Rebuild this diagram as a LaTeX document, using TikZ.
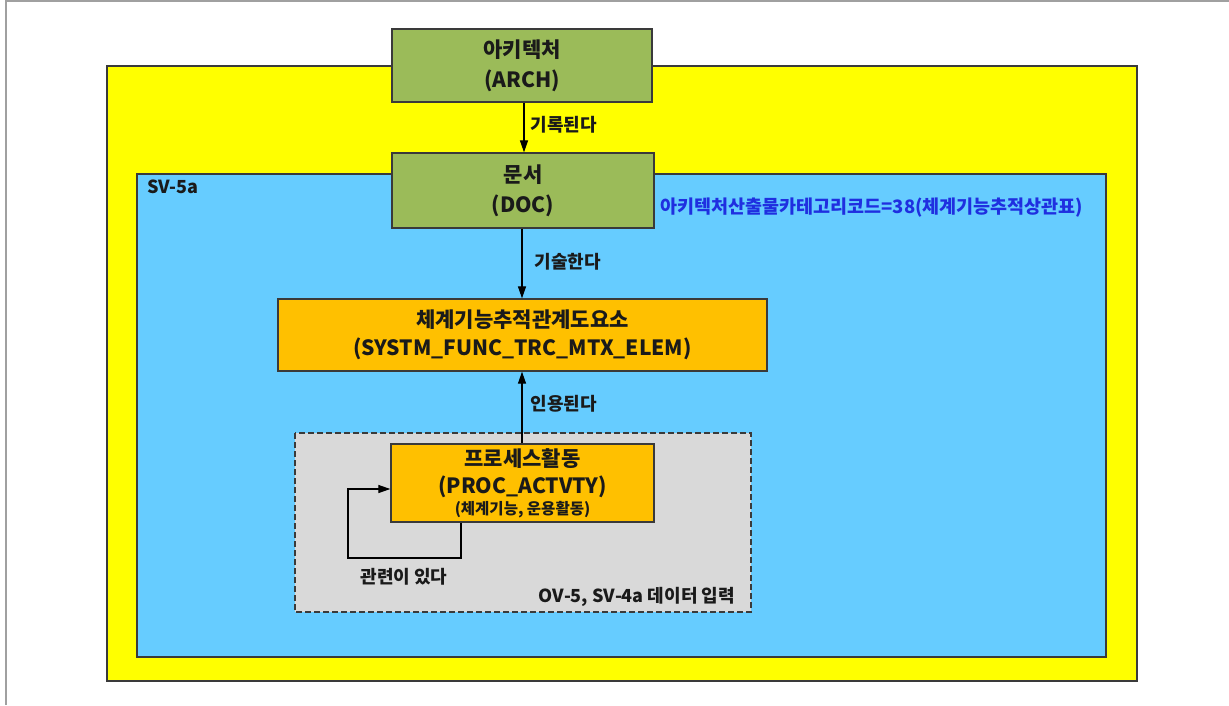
\documentclass[tikz,border=0pt]{standalone}
\usepackage{fontspec}
\setmainfont{Noto Sans CJK KR}
\usetikzlibrary{arrows.meta}
\definecolor{cyel}{HTML}{FFFF00}
\definecolor{cblue}{HTML}{66CCFF}
\definecolor{cgreen}{HTML}{9BBB59}
\definecolor{corange}{HTML}{FFC000}
\definecolor{cgray}{HTML}{D9D9D9}
\definecolor{cedge}{HTML}{3A3A3A}
\definecolor{ctext}{HTML}{1A1A1A}
\definecolor{cbluetext}{HTML}{1F2FE0}
\definecolor{cframe}{HTML}{A0A0A0}
\tikzset{
  region/.style={draw=cedge, line width=1.3pt},
  entity/.style={draw=cedge, line width=1.3pt, rectangle, align=center, inner sep=0pt, font=\bfseries\fontsize{21}{30}\selectfont, text=ctext},
  conn/.style={draw=black, line width=1.2pt, -{Triangle[length=12pt,width=8pt]}},
  lab/.style={font=\bfseries\fontsize{18}{20}\selectfont, text=ctext, inner sep=0pt},
}
\begin{document}
\begin{tikzpicture}[x=1pt,y=-1pt]
\useasboundingbox (0,0) rectangle (1229,705);
\fill[white] (0,0) rectangle (1229,705);
\draw[cframe, line width=2pt] (6,705) -- (6,1) -- (1229,1);
% regions
\draw[region, fill=cyel] (107,66) rectangle (1137,681);
\draw[region, fill=cblue] (137,174) rectangle (1106,657);
\draw[draw=cedge, line width=1.1pt, dash pattern=on 6pt off 3pt, fill=cgray] (295,433) rectangle (751,612);
\node[lab, anchor=west] (sv) at (147,187) {SV-5a};
\node[lab, anchor=east] (ov) at (735,597) {OV-5, SV-4a 데이터 입력};
% entities
\node[entity, fill=cgreen, minimum width=260pt, minimum height=73pt] (arch) at (522,65.5) {아키텍처\\(ARCH)};
\node[entity, fill=cgreen, minimum width=262pt, minimum height=75pt] (doc) at (523,190.5) {문서\\(DOC)};
\node[entity, fill=corange, minimum width=489pt, minimum height=72pt, font=\bfseries\fontsize{21}{28}\selectfont] (sys) at (522.5,335) {체계기능추적관계도요소\\(SYSTM\_FUNC\_TRC\_MTX\_ELEM)};
\node[entity, fill=corange, minimum width=263pt, minimum height=78pt, font=\bfseries\fontsize{21}{27}\selectfont] (proc) at (522.5,483) {프로세스활동\\(PROC\_ACTVTY)\\[-6pt]{\fontsize{15.5}{17}\selectfont (체계기능, 운용활동)}};
\node[font=\bfseries\fontsize{18.5}{20}\selectfont, text=cbluetext, anchor=west, inner sep=0pt] (code) at (660,208) {아키텍처산출물카테고리코드=38(체계기능추적상관표)};
% connectors
\draw[conn] (arch.south -| 524,0) -- node[lab, anchor=west, xshift=6pt, pos=0.45] {기록된다} (doc.north -| 524,0);
\draw[conn] (doc.south -| 522,0) -- node[lab, anchor=west, xshift=12pt, pos=0.47] {기술한다} (sys.north -| 522,0);
\draw[conn] (proc.north -| 522,0) -- node[lab, anchor=west, xshift=8pt, pos=0.55] {인용된다} (sys.south -| 522,0);
\coordinate (l1) at (461,558);
\coordinate (l2) at (348,558);
\coordinate (l3) at (348,489);
\draw[conn] (proc.south -| l1) -- (l1) -- (l2) -- (l3) -- (proc.west |- l3);
\node[lab] (rel) at (404,577) {관련이 있다};
\end{tikzpicture}
\end{document}
